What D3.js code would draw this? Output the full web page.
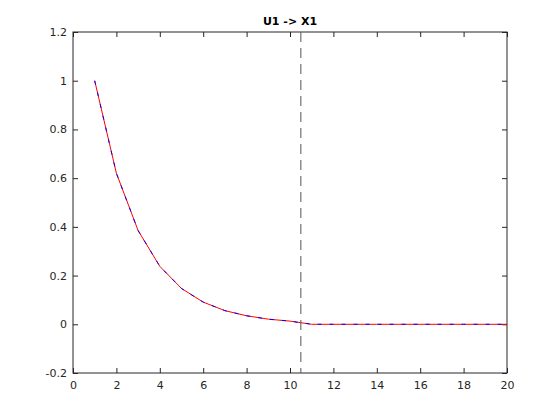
<!DOCTYPE html>
<html><head><meta charset="utf-8">
<script src="https://cdn.jsdelivr.net/npm/d3@7"></script>
<style>body{margin:0;background:#fff;}</style>
</head><body>
<script>
const xs = [1,2,3,4,5,6,7,8,9,10,11,12,13,14,15,16,17,18,19,20];
const seriesRed  = [1.0,0.62,0.385,0.238,0.147,0.091,0.056,0.035,0.021,0.013,0,0,0,0,0,0,0,0,0,0];
const seriesBlue = [1.0,0.62,0.385,0.238,0.147,0.091,0.056,0.035,0.021,0.013,0,0,0,0,0,0,0,0,0,0];
const xTicks = [0,2,4,6,8,10,12,14,16,18,20];
const yTicks = [-0.2,0,0.2,0.4,0.6,0.8,1,1.2];
const vLineX = 10.5;
const title = "U1 -> X1";

const W=560,H=420;
const m={l:73,r:53,t:32,b:47};
const svg=d3.select("body").append("svg").attr("width",W).attr("height",H);
svg.append("rect").attr("width",W).attr("height",H).attr("fill","#fff");
const x=d3.scaleLinear().domain([0,20]).range([m.l,W-m.r]);
const y=d3.scaleLinear().domain([-0.2,1.2]).range([H-m.b,m.t]);
const font="DejaVu Sans, sans-serif";
const axcol="#262626";

function styleAxis(g){
  g.selectAll(".domain").remove();
  g.selectAll("line").attr("stroke",axcol);
  g.selectAll("text").attr("fill",axcol).attr("font-family",font).attr("font-size",11);
}
svg.append("g").attr("transform",`translate(0,${y(-0.2)})`)
  .call(d3.axisBottom(x).tickValues(xTicks).tickSize(-5).tickPadding(8).tickFormat(d3.format("d"))).call(styleAxis);
svg.append("g").attr("transform",`translate(0,${y(1.2)})`)
  .call(d3.axisTop(x).tickValues(xTicks).tickSize(-5).tickFormat("")).call(styleAxis);
svg.append("g").attr("transform",`translate(${x(0)},0)`)
  .call(d3.axisLeft(y).tickValues(yTicks).tickSize(-5).tickPadding(6).tickFormat(d=>String(+d.toFixed(1)))).call(styleAxis);
svg.append("g").attr("transform",`translate(${x(20)},0)`)
  .call(d3.axisRight(y).tickValues(yTicks).tickSize(-5).tickFormat("")).call(styleAxis);

svg.append("rect").attr("x",x(0)).attr("y",y(1.2)).attr("width",x(20)-x(0)).attr("height",y(-0.2)-y(1.2))
  .attr("fill","none").attr("stroke",axcol).attr("stroke-width",1);

const line=d3.line().x((d,i)=>x(xs[i])).y(d=>y(d));
svg.append("path").datum(seriesRed).attr("d",line).attr("fill","none").attr("stroke","#ff0000").attr("stroke-width",1);
svg.append("path").datum(seriesBlue).attr("d",line).attr("fill","none").attr("stroke","#0000ff").attr("stroke-width",1).attr("stroke-dasharray","4,8");

svg.append("line").attr("x1",x(vLineX)).attr("x2",x(vLineX)).attr("y1",y(1.2)).attr("y2",y(-0.2))
  .attr("stroke","#555").attr("stroke-width",1).attr("stroke-dasharray","10,6");

svg.append("text").attr("x",(x(0)+x(20))/2).attr("y",25).attr("text-anchor","middle")
  .attr("font-family",font).attr("font-size",11).attr("font-weight","bold").attr("fill","#000").text(title);
</script>
</body></html>
